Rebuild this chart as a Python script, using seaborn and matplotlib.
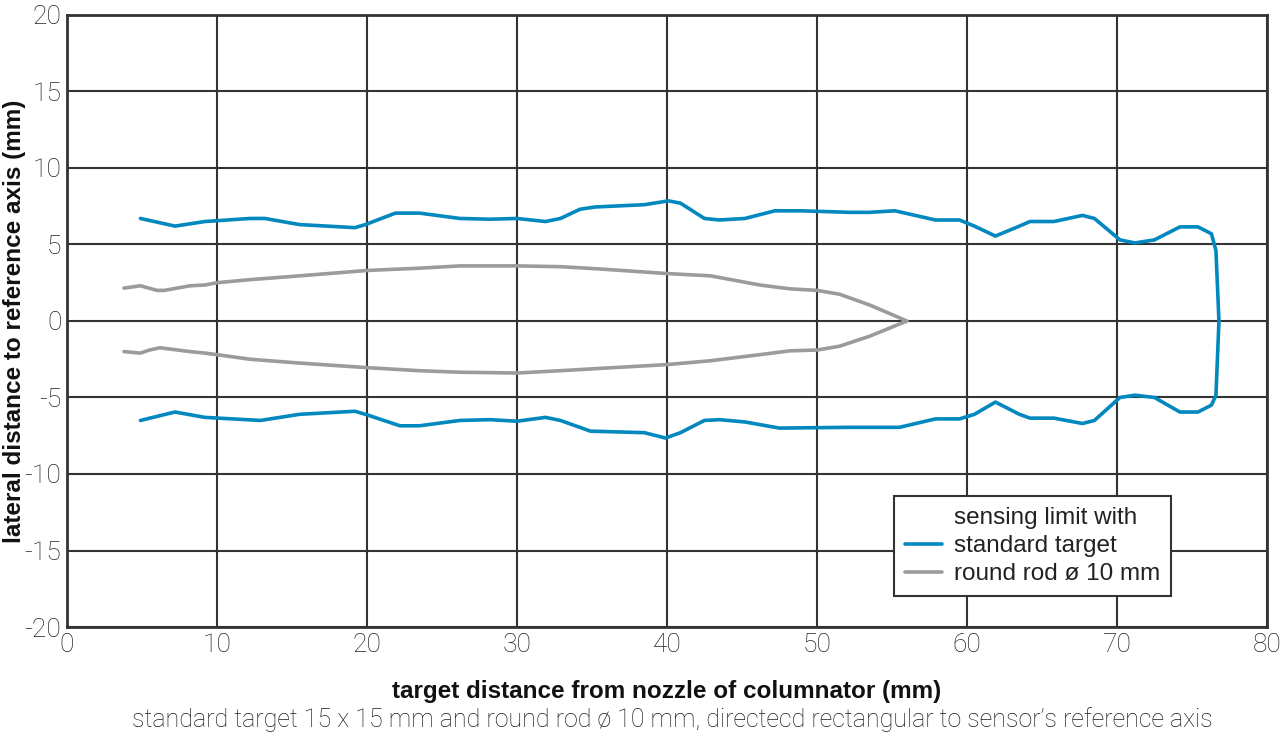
import pandas as pd
import seaborn as sns
import matplotlib.pyplot as plt
from matplotlib.lines import Line2D

# standard target, traced clockwise: upper edge left->right, then lower edge right->left
std_upper_x = [4.9, 7.2, 9.2, 12.2, 13.2, 15.5, 19.2, 19.9, 21.9, 23.5, 26.2, 28.2, 30.0, 31.9,
               32.9, 34.2, 35.2, 38.5, 40.1, 40.9, 42.5, 43.5, 45.2, 47.2, 48.9, 52.2, 53.5,
               55.2, 57.9, 59.5, 60.5, 61.9, 63.5, 64.2, 65.8, 67.7, 68.5, 70.2, 71.2, 72.5,
               74.2, 75.4, 76.3, 76.6, 76.8]
std_upper_y = [6.7, 6.2, 6.5, 6.7, 6.7, 6.3, 6.1, 6.3, 7.05, 7.05, 6.7, 6.65, 6.7, 6.5,
               6.7, 7.3, 7.45, 7.6, 7.85, 7.7, 6.7, 6.6, 6.7, 7.2, 7.2, 7.1, 7.1,
               7.2, 6.6, 6.6, 6.2, 5.55, 6.2, 6.5, 6.5, 6.9, 6.7, 5.3, 5.1, 5.3,
               6.15, 6.15, 5.7, 4.6, 0.0]
std_lower_x = [76.6, 76.3, 75.4, 74.2, 72.5, 71.2, 70.2, 68.5, 67.7, 65.8, 64.2, 63.5, 61.9,
               60.5, 59.5, 57.9, 55.5, 52.2, 47.5, 45.2, 43.5, 42.5, 40.9, 39.9, 38.5, 34.9,
               32.9, 31.9, 30.0, 28.2, 26.2, 23.5, 22.2, 19.9, 19.2, 15.5, 12.9, 9.2, 7.2, 4.9]
std_lower_y = [-4.85, -5.5, -5.95, -5.95, -5.0, -4.85, -5.0, -6.5, -6.7, -6.35, -6.35, -6.1, -5.3,
               -6.1, -6.4, -6.4, -6.95, -6.95, -7.0, -6.6, -6.45, -6.5, -7.3, -7.65, -7.3, -7.2,
               -6.5, -6.3, -6.55, -6.45, -6.5, -6.85, -6.85, -6.1, -5.9, -6.1, -6.5, -6.3, -5.95, -6.5]

# round rod 10 mm
rod_upper_x = [3.8, 4.9, 6.0, 6.5, 8.2, 9.2, 10.0, 12.2, 15.5, 20.0, 23.5, 26.2, 30.0, 32.9,
               35.5, 40.0, 42.9, 46.2, 48.2, 50.0, 51.5, 53.5, 56.0]
rod_upper_y = [2.15, 2.3, 2.0, 2.0, 2.3, 2.35, 2.5, 2.7, 2.95, 3.3, 3.45, 3.6, 3.6, 3.55,
               3.4, 3.1, 2.95, 2.35, 2.1, 2.0, 1.75, 1.05, 0.0]
rod_lower_x = [53.5, 51.5, 50.0, 48.2, 46.2, 42.9, 40.0, 35.5, 32.9, 30.0, 26.2, 23.5, 20.0,
               15.5, 12.2, 10.0, 9.2, 8.2, 6.2, 5.5, 4.9, 3.8]
rod_lower_y = [-1.0, -1.65, -1.9, -1.95, -2.2, -2.6, -2.85, -3.1, -3.25, -3.4, -3.35, -3.25, -3.05,
               -2.75, -2.5, -2.2, -2.1, -2.0, -1.75, -1.9, -2.1, -2.0]

x_ticks = [0, 10, 20, 30, 40, 50, 60, 70, 80]
y_ticks = [-20, -15, -10, -5, 0, 5, 10, 15, 20]

blue = '#0088bf'
grey = '#9b9b9d'
dark = '#333333'

std = pd.DataFrame({'x': std_upper_x + std_lower_x, 'y': std_upper_y + std_lower_y})
rod = pd.DataFrame({'x': rod_upper_x + rod_lower_x, 'y': rod_upper_y + rod_lower_y})

sns.set_style('white')
plt.rcParams['font.family'] = ['Roboto', 'DejaVu Sans']
plt.rcParams['axes.unicode_minus'] = False

fig = plt.figure(figsize=(12.8, 7.33), dpi=100)
ax = fig.add_axes([0.0523, 0.1446, 0.9375, 0.835])

sns.lineplot(data=std, x='x', y='y', sort=False, estimator=None, color=blue, lw=2.6, ax=ax)
sns.lineplot(data=rod, x='x', y='y', sort=False, estimator=None, color=grey, lw=2.6, ax=ax)

ax.set_xlim(0, 80)
ax.set_ylim(-20, 20)
ax.set_xticks(x_ticks)
ax.set_yticks(y_ticks)
ax.grid(True, color=dark, lw=1.5)
ax.set_axisbelow(True)
for s in ax.spines.values():
    s.set_color(dark)
    s.set_linewidth(2)
ax.tick_params(length=0, pad=4, labelsize=19, labelcolor='#222222')
for lab in ax.get_xticklabels() + ax.get_yticklabels():
    lab.set_fontweight('light')

ax.set_xlabel('target distance from nozzle of columnator (mm)', fontsize=17.5,
              fontweight='bold', family='Liberation Sans', color='#111111')
ax.xaxis.set_label_coords(0.5, -0.086)
ax.set_ylabel('lateral distance to reference axis (mm)', fontsize=17.5,
              fontweight='bold', family='Liberation Sans', color='#111111')
ax.yaxis.set_label_coords(-0.034, 0.5)
fig.text(0.525, 0.0177, 'standard target 15 x 15 mm and round rod \u00f8 10 mm, directecd rectangular '
         'to sensor\u2019s reference axis', ha='center', va='center', fontsize=18,
         fontweight='light', color='#1a1a1a')

handles = [Line2D([], [], color='none'),
           Line2D([], [], color=blue, lw=2.6),
           Line2D([], [], color=grey, lw=2.6)]
labels = ['sensing limit with', 'standard target', 'round rod \u00f8 10 mm']
leg = ax.legend(handles, labels, loc='lower right', bbox_to_anchor=(0.92, 0.05),
                borderaxespad=0, fancybox=False, framealpha=1, edgecolor=dark,
                prop={'family': 'Liberation Sans', 'size': 17.5}, handlelength=1.5,
                labelspacing=0.25, borderpad=0.45, handletextpad=0.5)
leg.get_frame().set_linewidth(1.5)
for t in leg.get_texts():
    t.set_color('#222222')

fig.savefig('out.png', dpi=100)
